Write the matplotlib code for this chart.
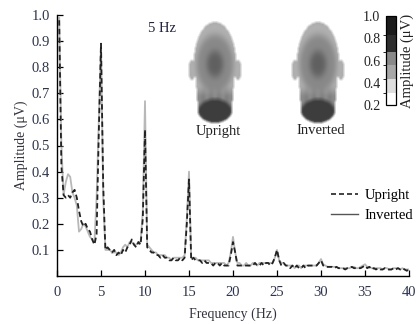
import numpy as np
import matplotlib
matplotlib.use('Agg')
import matplotlib.pyplot as plt
from matplotlib.colors import ListedColormap, BoundaryNorm
from matplotlib.cm import ScalarMappable
from matplotlib.lines import Line2D

plt.rcParams['font.family'] = ['Liberation Serif', 'DejaVu Serif']

# spectrum sampled every 0.25 Hz, 0.25 .. 40 Hz
freq = np.arange(1, 161) * 0.25

upright = [
    0.98, 0.42, 0.31, 0.30,   0.31, 0.30, 0.32, 0.33,
    0.30, 0.25, 0.21, 0.19,   0.20, 0.18, 0.17, 0.14,
    0.12, 0.16, 0.55, 0.89,   0.35, 0.10, 0.11, 0.10,
    0.09, 0.10, 0.08, 0.09,   0.08, 0.10, 0.09, 0.11,
    0.12, 0.14, 0.12, 0.11,   0.13, 0.12, 0.22, 0.56,
    0.11, 0.10, 0.09, 0.09,   0.08, 0.08, 0.07, 0.08,
    0.07, 0.07, 0.06, 0.06,   0.07, 0.06, 0.06, 0.07,
    0.06, 0.07, 0.20, 0.37,   0.06, 0.07, 0.06, 0.06,
    0.06, 0.05, 0.06, 0.05,   0.05, 0.05, 0.04, 0.05,
    0.05, 0.04, 0.05, 0.04,   0.04, 0.04, 0.08, 0.13,
    0.09, 0.04, 0.04, 0.04,   0.04, 0.04, 0.04, 0.04,
    0.04, 0.05, 0.04, 0.04,   0.05, 0.04, 0.05, 0.05,
    0.04, 0.05, 0.07, 0.10,   0.06, 0.04, 0.05, 0.04,
    0.04, 0.03, 0.04, 0.03,   0.04, 0.03, 0.03, 0.04,
    0.03, 0.04, 0.04, 0.04,   0.04, 0.04, 0.05, 0.06,
    0.04, 0.035, 0.035, 0.035, 0.035, 0.03, 0.035, 0.03,
    0.03, 0.03, 0.025, 0.03,  0.03, 0.035, 0.03, 0.03,
    0.03, 0.03, 0.035, 0.04,  0.03, 0.035, 0.025, 0.03,
    0.025, 0.03, 0.025, 0.025, 0.03, 0.025, 0.025, 0.025,
    0.03, 0.025, 0.03, 0.025, 0.03, 0.025, 0.02, 0.025,
]

inverted = [
    0.99, 0.50, 0.31, 0.36,   0.39, 0.38, 0.32, 0.30,
    0.27, 0.17, 0.18, 0.20,   0.19, 0.17, 0.15, 0.14,
    0.13, 0.30, 0.60, 0.89,   0.30, 0.10, 0.10, 0.10,
    0.09, 0.09, 0.09, 0.08,   0.09, 0.11, 0.12, 0.11,
    0.13, 0.13, 0.12, 0.12,   0.13, 0.13, 0.25, 0.67,
    0.12, 0.11, 0.10, 0.09,   0.09, 0.08, 0.08, 0.08,
    0.08, 0.07, 0.07, 0.06,   0.07, 0.07, 0.07, 0.07,
    0.07, 0.08, 0.22, 0.40,   0.07, 0.07, 0.07, 0.06,
    0.06, 0.06, 0.06, 0.06,   0.06, 0.05, 0.05, 0.05,
    0.05, 0.05, 0.05, 0.05,   0.04, 0.05, 0.09, 0.15,
    0.09, 0.05, 0.05, 0.04,   0.04, 0.05, 0.04, 0.04,
    0.05, 0.05, 0.04, 0.05,   0.05, 0.05, 0.05, 0.05,
    0.05, 0.05, 0.07, 0.10,   0.06, 0.05, 0.05, 0.04,
    0.04, 0.04, 0.04, 0.03,   0.04, 0.04, 0.03, 0.04,
    0.04, 0.04, 0.04, 0.04,   0.04, 0.04, 0.05, 0.065,
    0.045, 0.04, 0.035, 0.035, 0.035, 0.035, 0.035, 0.03,
    0.03, 0.03, 0.03, 0.03,   0.03, 0.035, 0.035, 0.03,
    0.03, 0.035, 0.04, 0.045, 0.035, 0.035, 0.03, 0.03,
    0.03, 0.03, 0.03, 0.025,  0.03, 0.03, 0.025, 0.025,
    0.03, 0.03, 0.03, 0.025,  0.03, 0.025, 0.025, 0.025,
]

x_ticks = [0, 5, 10, 15, 20, 25, 30, 35, 40]
y_ticks = [0.1, 0.2, 0.3, 0.4, 0.5, 0.6, 0.7, 0.8, 0.9, 1.0]

cbar_bounds = [0.2, 0.31, 0.43, 0.56, 0.68, 0.83, 1.0]
cbar_colors = ['#ffffff', '#dedede', '#a8a8a8', '#8a8a8a', '#2e2e2e', '#1c1c1c']
cbar_ticks = [0.2, 0.4, 0.6, 0.8, 1.0]

W, H = 417, 324
label_col = '#2d3350'

fig = plt.figure(figsize=(W / 100, H / 100), dpi=100)


def px_box(x0, y0, x1, y1):
    return [x0 / W, 1 - y1 / H, (x1 - x0) / W, (y1 - y0) / H]


ax = fig.add_axes(px_box(57, 15, 409, 276))
ax.plot(freq, inverted, color='#b8b8b8', lw=1.3, zorder=2)
ax.plot(freq, upright, color='#222222', lw=1.3, ls=(0, (3, 1.8)), zorder=3)
ax.set_xlim(0, 40)
ax.set_ylim(0, 1.0)
ax.set_xticks(x_ticks)
ax.set_yticks(y_ticks)
ax.set_xticklabels([str(t) for t in x_ticks])
ax.set_yticklabels(['%.1f' % t for t in y_ticks])
for s in ['top', 'right']:
    ax.spines[s].set_visible(False)
for s in ['left', 'bottom']:
    ax.spines[s].set_linewidth(1.0)
ax.tick_params(direction='in', length=4, width=0.9, labelsize=10.5,
               labelcolor=label_col)
ax.tick_params(axis='y', pad=5)
ax.tick_params(axis='x', pad=7)
ax.set_xlabel('Frequency (Hz)', fontsize=10, color='#333340', labelpad=6)
ax.set_ylabel('Amplitude (μV)', fontsize=10, color='#333340', labelpad=3)

handles = [Line2D([], [], color='#222222', lw=1.2, ls=(0, (3, 1.8))),
           Line2D([], [], color='#555555', lw=1.0)]
ax.legend(handles, ['Upright', 'Inverted'], loc='center right',
          bbox_to_anchor=(1.05, 0.27), frameon=False, fontsize=10.5,
          handlelength=1.8, handletextpad=0.5, labelspacing=0.45)


def box_blur(a, k):
    out = a.copy()
    for axis in (0, 1):
        acc = np.zeros_like(out)
        for d in range(-k, k + 1):
            acc += np.roll(out, d, axis=axis)
        out = acc / (2 * k + 1)
    return out


def head_image(w=60, h=106):
    yy, xx = np.mgrid[0:h, 0:w] + 0.5
    cx = w / 2
    skull = ((xx - cx) / 21) ** 2 + ((yy - 42) / 40) ** 2 <= 1
    ears = ((np.abs(xx - cx) - 23) / 3.5) ** 2 + ((yy - 50) / 10) ** 2 <= 1
    neck = (np.abs(xx - cx) <= 19 - (yy - 62) * 0.08) & (yy >= 55) & (yy <= 96)
    base = ((xx - cx) / 17) ** 2 + ((yy - 91) / 12) ** 2 <= 1
    mask = (skull | ears | neck | base).astype(float)

    # scalp shading: lighter rim, darker elongated centre
    r = np.sqrt(((xx - cx) / 20) ** 2 + ((yy - 44) / 32) ** 2)
    gray = 0.34 + 0.30 * np.clip(r, 0, 1.2) + 0.025 * np.cos(r * 12)
    lower = np.clip((yy - 66) / 10, 0, 1)
    neck_gray = 0.52 + 0.04 * np.cos((xx - cx) * 0.8)
    gray = gray * (1 - lower) + neck_gray * lower
    gray = np.where(base, 0.24, gray)
    gray = np.clip(gray, 0, 1)
    gray = box_blur(gray, 2)
    alpha = box_blur(mask, 1)
    rgba = np.dstack([gray, gray, gray, alpha])
    return np.clip(rgba, 0, 1)


img = head_image()
for x0, name in [(185, 'Upright'), (288, 'Inverted')]:
    hax = fig.add_axes(px_box(x0, 20, x0 + 60, 126))
    hax.imshow(img, interpolation='bilinear', aspect='auto')
    hax.axis('off')
    fig.text((x0 + 33) / W, 1 - 131 / H, name, ha='center', va='center',
             fontsize=10.5, color='#222222')

fig.text(148 / W, 1 - 28 / H, '5 Hz', ha='left', va='center',
         fontsize=10.5, color='#222244')

cax = fig.add_axes(px_box(386, 16, 396, 105))
cmap = ListedColormap(cbar_colors)
norm = BoundaryNorm(cbar_bounds, cmap.N)
cb = fig.colorbar(ScalarMappable(norm=norm, cmap=cmap), cax=cax,
                  ticks=cbar_ticks, spacing='proportional')
cb.outline.set_linewidth(0.9)
cax.yaxis.set_ticks_position('left')
cax.yaxis.set_label_position('right')
cax.tick_params(length=0, labelsize=10, labelcolor='#222222', pad=4)
cax.set_yticklabels(['%.1f' % t for t in cbar_ticks])
cb.set_label('Amplitude (μV)', fontsize=10.5, color='#222222', labelpad=3)

fig.savefig('out.png', dpi=100)
